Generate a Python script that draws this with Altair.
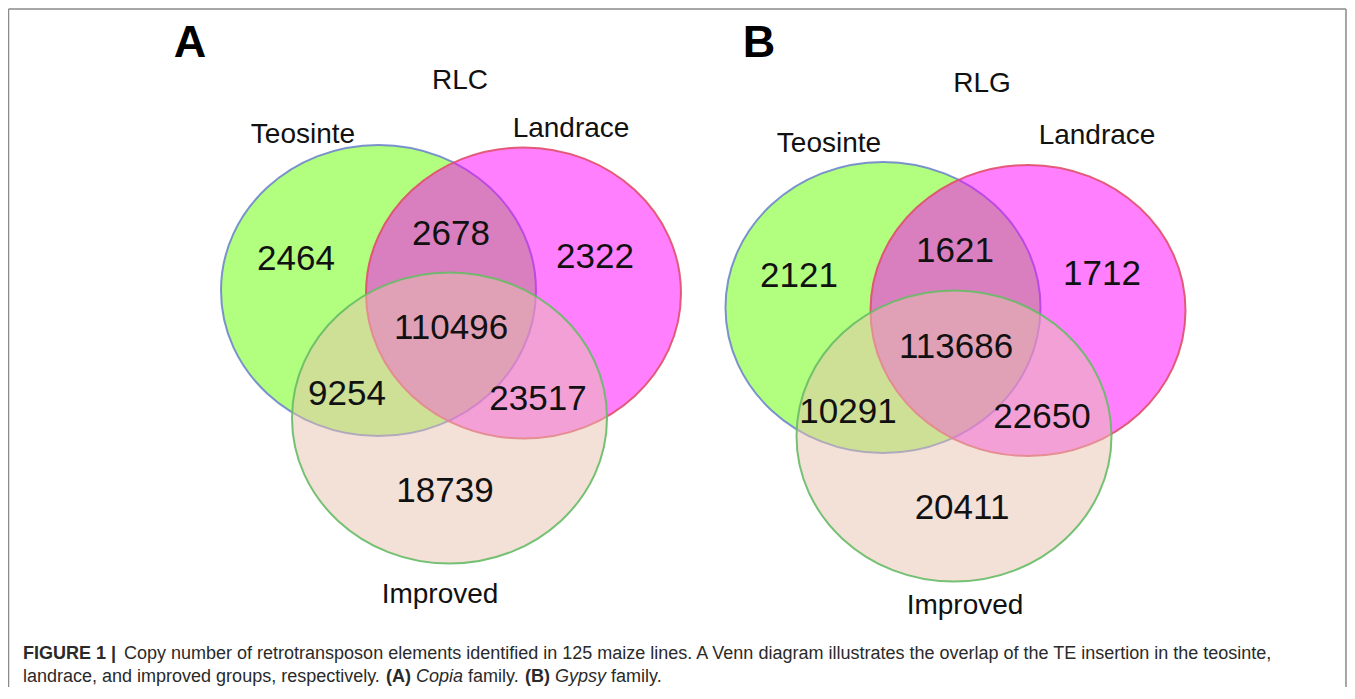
import altair as alt
import pandas as pd

# ---------------- data ----------------
panel_letters = ["A", "B"]
families = ["RLC", "RLG"]
set_names = ["Teosinte", "Landrace", "Improved"]
regions = ["T only", "T&L", "L only", "T&L&I", "T&I", "L&I", "I only"]
counts_rlc = [2464, 2678, 2322, 110496, 9254, 23517, 18739]
counts_rlg = [2121, 1621, 1712, 113686, 10291, 22650, 20411]

caption_line1_bold = "FIGURE 1 |"
caption_line1 = ("Copy number of retrotransposon elements identified in 125 maize lines. "
                 "A Venn diagram illustrates the overlap of the TE insertion in the teosinte,")
caption_line2 = [
    ("landrace, and improved groups, respectively.", "normal", "normal"),
    ("(A)", "bold", "normal"),
    ("Copia", "normal", "italic"),
    ("family.", "normal", "normal"),
    ("(B)", "bold", "normal"),
    ("Gypsy", "normal", "italic"),
    ("family.", "normal", "normal"),
]

# ---------------- layout (page pixel positions) ----------------
W, H = 1339, 679
ellipse_cx = {"A": [378.5, 523.5, 449.5], "B": [883, 1028, 954]}
ellipse_cy = {"A": [290.5, 293, 418], "B": [307.5, 310.5, 436]}
count_x = {"A": [296, 451, 595, 451, 347, 538, 445], "B": [799, 955, 1102, 956, 848, 1042, 962]}
count_y = {"A": [270, 245, 268, 339, 405, 410, 502], "B": [287, 262, 285, 358, 423, 428, 519]}
label_x = {"A": [303, 571, 440], "B": [829, 1097, 965]}
label_y = {"A": [143, 137, 603], "B": [152, 144, 614]}
letter_pos = {"A": (190, 57), "B": (759, 57)}
family_pos = {"A": (460, 89), "B": (982, 92)}
cap1_pos = [(23, 659), (124, 659)]
cap2_x = [23, 386, 416, 468, 525, 555, 611]
cap2_y = 682

set_fill = ["#66ff00", "#ff00ff", "#e7c1ad"]
set_stroke = ["#6f86cc", "#e0506a", "#66bb66"]
FONT = "Liberation Sans"

xs = alt.Scale(domain=[8, 8 + W], range=[0, W])
ys = alt.Scale(domain=[8, 8 + H], reverse=True)
X = alt.X("x:Q", scale=xs, axis=None)
Y = alt.Y("y:Q", scale=ys, axis=None)

ELLIPSE = "M-1,0A1,0.924,0,1,1,1,0A1,0.924,0,1,1,-1,0Z"

layers = []
for i, s in enumerate(set_names):
    df = pd.DataFrame({
        "x": [ellipse_cx[p][i] for p in panel_letters],
        "y": [ellipse_cy[p][i] for p in panel_letters],
        "set": [s, s],
    })
    layers.append(
        alt.Chart(df).mark_point(
            shape=ELLIPSE, size=315 * 315, filled=True, fill=set_fill[i],
            fillOpacity=0.5, stroke=set_stroke[i], strokeWidth=2, strokeOpacity=0.9,
            opacity=1,
        ).encode(x=X, y=Y)
    )

rows = []
for p, counts in zip(panel_letters, [counts_rlc, counts_rlg]):
    for j, c in enumerate(counts):
        rows.append({"x": count_x[p][j], "y": count_y[p][j], "t": str(c)})
layers.append(alt.Chart(pd.DataFrame(rows)).mark_text(
    font=FONT, fontSize=35, align="center", baseline="alphabetic", color="#111111"
).encode(x=X, y=Y, text="t:N"))

rows = []
for p, fam in zip(panel_letters, families):
    for j, s in enumerate(set_names):
        rows.append({"x": label_x[p][j], "y": label_y[p][j], "t": s})
    rows.append({"x": family_pos[p][0], "y": family_pos[p][1], "t": fam})
layers.append(alt.Chart(pd.DataFrame(rows)).mark_text(
    font=FONT, fontSize=28, align="center", baseline="alphabetic", color="#111111"
).encode(x=X, y=Y, text="t:N"))

rows = [{"x": letter_pos[p][0], "y": letter_pos[p][1], "t": p} for p in panel_letters]
layers.append(alt.Chart(pd.DataFrame(rows)).mark_text(
    font=FONT, fontSize=45, fontWeight="bold", align="center", baseline="alphabetic", color="#000000"
).encode(x=X, y=Y, text="t:N"))

# caption
cap_rows = [
    {"x": cap1_pos[0][0], "y": cap1_pos[0][1], "t": caption_line1_bold, "w": "bold", "s": "normal"},
    {"x": cap1_pos[1][0], "y": cap1_pos[1][1], "t": caption_line1, "w": "normal", "s": "normal"},
]
for xx, (t, w, s) in zip(cap2_x, caption_line2):
    cap_rows.append({"x": xx, "y": cap2_y, "t": t, "w": w, "s": s})
cap_df = pd.DataFrame(cap_rows)
for w in ["normal", "bold"]:
    for s in ["normal", "italic"]:
        sub = cap_df[(cap_df.w == w) & (cap_df.s == s)]
        if len(sub) == 0:
            continue
        layers.append(alt.Chart(sub).mark_text(
            font=FONT, fontSize=18, fontWeight=w, fontStyle=s, align="left",
            baseline="alphabetic", color="#2a2a2a"
        ).encode(x=X, y=Y, text="t:N"))

# border
border = pd.DataFrame({"x": [8.5, 8.5, 1346], "x2": [1346, 8.5, 1346], "y": [9, 9, 9], "y2": [9, 720, 720]})
layers.append(alt.Chart(border).mark_rule(color="#8a8a8a", strokeWidth=1.5).encode(
    x=X, x2="x2:Q", y=Y, y2="y2:Q"))

chart = alt.layer(*layers).properties(
    width=W, height=H, padding=0, autosize=alt.AutoSizeParams(type="none"), background="white"
).configure_view(stroke=None)

chart.save("out.html", embed_options={"renderer": "svg", "actions": False})
